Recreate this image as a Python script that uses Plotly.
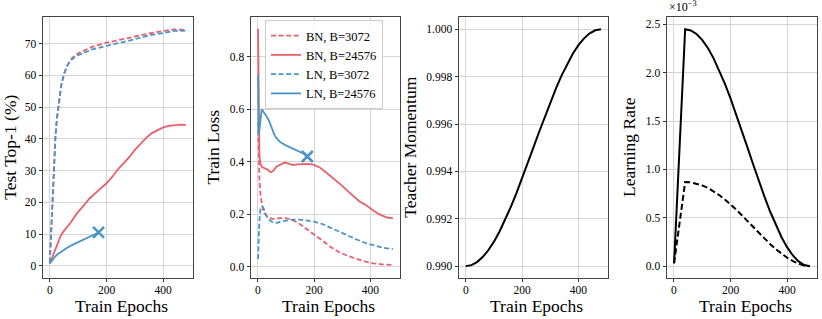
import plotly.graph_objects as go

RED = "#e8606c"
BLUE = "#4a94c8"
FONT = "Liberation Serif"
DASH = "5px,2.6px"

# ---------------- Panel 1: Test Top-1 (%) ----------------
top1_bn3072_ep = [0, 5, 10, 15, 20, 25, 30, 35, 40, 50, 60, 70, 80, 100, 120, 150, 200, 250, 300, 350, 400, 440, 480]
top1_bn3072 = [1, 12, 24, 34, 41, 46, 50, 53.5, 56.5, 60.3, 62.8, 64.5, 65.6, 67.0, 67.9, 69.0, 70.3, 71.3, 72.3, 73.2, 74.0, 74.5, 74.3]
top1_ln3072_ep = [0, 5, 10, 15, 20, 25, 30, 35, 40, 50, 60, 70, 80, 100, 120, 150, 200, 250, 300, 350, 400, 440, 480]
top1_ln3072 = [1, 11, 22, 33, 41, 46.5, 50.5, 54, 57, 60.5, 62.8, 64.2, 65.2, 66.4, 67.2, 68.2, 69.3, 70.3, 71.4, 72.6, 73.5, 74.0, 74.1]
top1_bn24576_ep = [0, 10, 20, 30, 40, 50, 60, 75, 90, 100, 120, 140, 160, 180, 200, 220, 240, 260, 280, 300, 320, 340, 360, 380, 400, 420, 440, 460, 480]
top1_bn24576 = [0.7, 3, 5.5, 7.8, 9.8, 11, 12, 13.8, 15.8, 17, 19, 21.2, 22.8, 24.4, 26, 28, 30.4, 32.3, 34.2, 36.5, 38.5, 40.3, 41.8, 42.8, 43.6, 44.1, 44.4, 44.5, 44.4]
top1_ln24576_ep = [0, 10, 20, 30, 40, 60, 80, 100, 120, 140, 160, 172]
top1_ln24576 = [0.7, 2, 3, 3.8, 4.5, 5.6, 6.6, 7.4, 8.2, 9.0, 9.8, 10.5]

# ---------------- Panel 2: Train Loss ----------------
loss_bn3072_ep = [1, 3, 6, 10, 15, 20, 30, 40, 50, 60, 80, 100, 120, 140, 160, 180, 200, 230, 260, 290, 320, 350, 380, 410, 440, 480]
loss_bn3072 = [0.55, 0.42, 0.33, 0.27, 0.23, 0.21, 0.195, 0.188, 0.183, 0.183, 0.186, 0.186, 0.18, 0.17, 0.155, 0.14, 0.125, 0.1, 0.075, 0.056, 0.042, 0.03, 0.021, 0.014, 0.01, 0.008]
loss_bn24576_ep = [1, 2, 4, 6, 10, 15, 25, 35, 45, 55, 65, 80, 95, 110, 125, 140, 160, 180, 200, 220, 240, 260, 280, 300, 320, 340, 360, 380, 400, 420, 440, 460, 480]
loss_bn24576 = [0.905, 0.7, 0.5, 0.42, 0.39, 0.38, 0.375, 0.37, 0.36, 0.365, 0.38, 0.39, 0.397, 0.393, 0.387, 0.39, 0.392, 0.392, 0.388, 0.378, 0.362, 0.345, 0.327, 0.308, 0.288, 0.268, 0.25, 0.238, 0.222, 0.207, 0.196, 0.188, 0.185]
loss_ln3072_ep = [1, 3, 6, 10, 15, 20, 25, 30, 40, 50, 60, 70, 80, 100, 120, 150, 180, 200, 230, 260, 290, 320, 350, 380, 410, 440, 480]
loss_ln3072 = [0.03, 0.1, 0.18, 0.225, 0.23, 0.225, 0.21, 0.195, 0.18, 0.172, 0.168, 0.168, 0.172, 0.177, 0.18, 0.18, 0.176, 0.172, 0.163, 0.148, 0.133, 0.12, 0.105, 0.092, 0.082, 0.074, 0.068]
loss_ln24576_ep = [1, 3, 6, 10, 14, 20, 30, 40, 50, 60, 70, 80, 100, 120, 140, 160, 176]
loss_ln24576 = [0.73, 0.5, 0.52, 0.58, 0.6, 0.59, 0.575, 0.555, 0.53, 0.5, 0.485, 0.475, 0.462, 0.452, 0.44, 0.432, 0.42]

# ---------------- Panel 3: Teacher Momentum ----------------
mom_ep = [0, 20, 40, 60, 80, 100, 120, 140, 160, 180, 200, 220, 240, 260, 280, 300, 320, 340, 360, 380, 400, 420, 440, 460, 480]
momentum = [0.99000, 0.990043, 0.990170, 0.990381, 0.990670, 0.991033, 0.991464, 0.991956, 0.992500, 0.993087,
            0.993706, 0.994347, 0.995000, 0.995653, 0.996294, 0.996913, 0.997500, 0.998044, 0.998536, 0.998967,
            0.999330, 0.999619, 0.999830, 0.999957, 1.000000]

# ---------------- Panel 4: Learning Rate ----------------
lr_ep = [1, 40, 60, 80, 100, 120, 140, 160, 180, 200, 220, 240, 260, 280, 300, 320, 340, 360, 380, 400, 420, 440, 460, 480]
lr_solid = [0.00003, 0.00245, 0.0024375, 0.0024, 0.002339, 0.0022555, 0.0021508, 0.0020272, 0.0018873, 0.0017339,
            0.0015701, 0.0013993, 0.001225, 0.0010507, 0.0008799, 0.0007161, 0.0005627, 0.0004228, 0.0002992,
            0.0001945, 0.0001107, 0.0000496, 0.0000125, 0.0]
lr_dashed = [0.00003, 0.00087, 0.000866, 0.000854, 0.000835, 0.00081, 0.000776, 0.000735, 0.000689, 0.00064,
             0.000585, 0.000526, 0.000465, 0.000403, 0.000342, 0.000283, 0.000227, 0.000175, 0.000128,
             0.000087, 0.000053, 0.000026, 0.000008, 0.0]
lr_tickvals = [0, 0.0005, 0.001, 0.0015, 0.002, 0.0025]
lr_ticktext = ["0.0", "0.5", "1.0", "1.5", "2.0", "2.5"]

W, H = 822, 319
fig = go.Figure()

def add(x, y, color, dash, name, ax, legend=False, lw=1.8):
    fig.add_trace(go.Scatter(x=x, y=y, mode="lines", name=name,
                             line=dict(color=color, width=lw, dash=dash),
                             xaxis="x" + ax, yaxis="y" + ax, showlegend=legend))

def marker(x, y, ax):
    fig.add_trace(go.Scatter(x=[x], y=[y], mode="markers",
                             marker=dict(symbol="x-thin", size=11, line=dict(color=BLUE, width=2.6)),
                             xaxis="x" + ax, yaxis="y" + ax, showlegend=False))

# panel 1
add(top1_bn24576_ep, top1_bn24576, RED, "solid", "BN, B=24576", "")
add(top1_ln24576_ep, top1_ln24576, BLUE, "solid", "LN, B=24576", "")
add(top1_bn3072_ep, top1_bn3072, RED, DASH, "BN, B=3072", "")
add(top1_ln3072_ep, top1_ln3072, BLUE, DASH, "LN, B=3072", "")
marker(top1_ln24576_ep[-1], top1_ln24576[-1], "")

# panel 2
add(loss_bn3072_ep, loss_bn3072, RED, DASH, "BN, B=3072", "2", legend=True)
add(loss_bn24576_ep, loss_bn24576, RED, "solid", "BN, B=24576", "2", legend=True)
add(loss_ln3072_ep, loss_ln3072, BLUE, DASH, "LN, B=3072", "2", legend=True)
add(loss_ln24576_ep, loss_ln24576, BLUE, "solid", "LN, B=24576", "2", legend=True)
marker(loss_ln24576_ep[-1], loss_ln24576[-1], "2")

# panel 3
add(mom_ep, momentum, "black", "solid", "momentum", "3", lw=2)

# panel 4
add(lr_ep, lr_solid, "black", "solid", "lr large", "4", lw=2)
add(lr_ep, lr_dashed, "black", "6px,3px", "lr small", "4", lw=2)

ydom = [1 - 277.5 / H, 1 - 17 / H]
xdoms = [(43, 193), (251, 400), (459, 608), (667, 817)]
TICKFONT = dict(family=FONT, size=11.5, color="black")
TITLEFONT = dict(family=FONT, size=17.5, color="black")

def xax(dom):
    return dict(domain=[dom[0] / W, dom[1] / W], range=[-24, 505],
                tickvals=[0, 200, 400], ticks="outside", ticklen=3.5, tickcolor="#333",
                ticklabelstandoff=-2,
                showline=True, mirror=True, linecolor="#444", linewidth=1,
                showgrid=True, gridcolor="#d5d5d5", gridwidth=1, zeroline=False,
                tickfont=TICKFONT)

def yax(anchor, rng, title, **kw):
    d = dict(domain=ydom, anchor=anchor, range=rng, ticks="outside", ticklen=3.5, tickcolor="#333",
             showline=True, mirror=True, linecolor="#444", linewidth=1,
             showgrid=True, gridcolor="#d5d5d5", gridwidth=1, zeroline=False,
             tickfont=TICKFONT,
             title=dict(text=title, font=TITLEFONT, standoff=5))
    d.update(kw)
    return d

annotations = [dict(text="×10<sup>−3</sup>", x=667 / W, y=1 - 16 / H, xref="paper", yref="paper",
                    xanchor="left", yanchor="bottom", showarrow=False,
                    font=dict(family=FONT, size=12, color="black"))]
for dom in xdoms:
    annotations.append(dict(text="Train Epochs", x=(dom[0] + dom[1]) / 2 / W + 0.004, y=1 - 294 / H,
                            xref="paper", yref="paper", xanchor="center", yanchor="top",
                            showarrow=False, font=TITLEFONT))

fig.update_layout(
    width=W, height=H, margin=dict(l=0, r=0, t=0, b=0),
    plot_bgcolor="white", paper_bgcolor="white",
    font=dict(family=FONT, color="black"),
    xaxis=dict(xax(xdoms[0]), anchor="y"),
    xaxis2=dict(xax(xdoms[1]), anchor="y2"),
    xaxis3=dict(xax(xdoms[2]), anchor="y3"),
    xaxis4=dict(xax(xdoms[3]), anchor="y4"),
    yaxis=yax("x", [-3.7, 78.4], "Test Top-1 (%)", tickvals=[0, 10, 20, 30, 40, 50, 60, 70]),
    yaxis2=yax("x2", [-0.04, 0.95], "Train Loss", tickvals=[0, 0.2, 0.4, 0.6, 0.8], tickformat=".1f"),
    yaxis3=yax("x3", [0.98952, 1.00052], "Teacher Momentum",
               tickvals=[0.990, 0.992, 0.994, 0.996, 0.998, 1.000], tickformat=".3f"),
    yaxis4=yax("x4", [-0.000117, 0.002576], "Learning Rate",
               tickvals=lr_tickvals, ticktext=lr_ticktext),
    legend=dict(x=265 / W, y=1 - 20 / H, xanchor="left", yanchor="top",
                bgcolor="rgba(255,255,255,0.85)", bordercolor="#cccccc", borderwidth=1,
                font=dict(family=FONT, size=12.5, color="black"), tracegroupgap=0),
    annotations=annotations,
)

fig.write_html("out.html", config={"displayModeBar": False},
               post_script="document.body.style.margin='0';")
